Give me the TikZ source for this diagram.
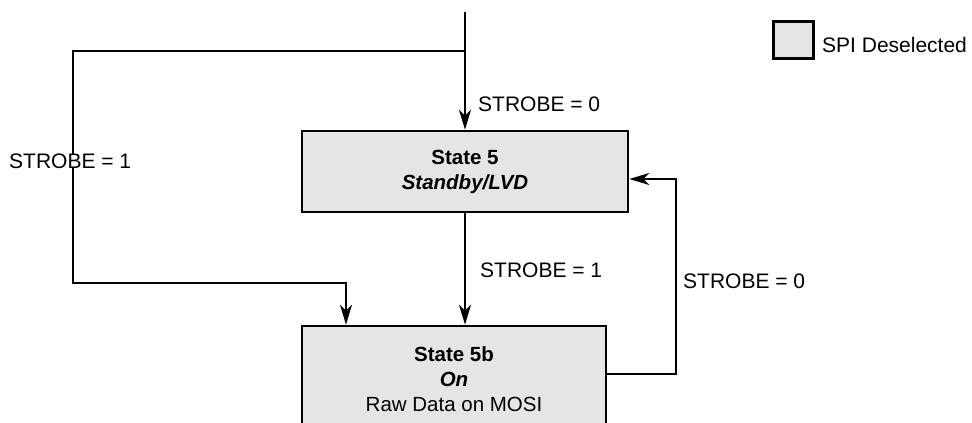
\documentclass[tikz,border=0pt]{standalone}
\usepackage{fontspec}
\setmainfont{Liberation Sans}
\usetikzlibrary{arrows.meta}
\begin{document}
\begin{tikzpicture}[x=1pt,y=-1pt,
  statebox/.style={draw=black,line width=2.6pt,fill=black!10,inner sep=0pt,align=center,font=\fontsize{20.5}{25}\selectfont},
  conn/.style={line width=2.4pt},
  arr/.style={conn,-{Stealth[length=20pt,width=12pt,inset=6pt]}},
  lbl/.style={font=\fontsize{21}{25}\selectfont,inner sep=1pt,anchor=west}]
\useasboundingbox (0,0) rectangle (972,423);
\clip (0,0) rectangle (972,423);
\node[statebox,minimum width=326pt,minimum height=81pt] (s5) at (465,171.5)
  {\textbf{State 5}\\\textbf{\textit{Standby/LVD}}};
\node[statebox,minimum width=304pt,minimum height=106pt] (s5b) at (454,379)
  {\textbf{State 5b}\\\textbf{\textit{On}}\\Raw Data on MOSI};
\coordinate (top) at (465,12);
\coordinate (j) at (465,51);
\coordinate (l1) at (73,51);
\coordinate (l2) at (73,283);
\coordinate (l3) at (346,283);
\coordinate (r1) at (676,374);
\coordinate (r2) at (676,179);
\draw[arr] (top) -- (s5.north);
\draw[arr] (j) -- (l1) -- (l2) -- (l3) -- (l3 |- s5b.north);
\draw[arr] (s5.south) -- (s5.south |- s5b.north);
\draw[arr] (s5b.east |- r1) -- (r1) -- (r2) -- (s5.east |- r2);
\node[lbl] (t0) at (477,104) {STROBE = 0};
\node[lbl,fill=white,inner sep=0pt] (t1) at (9,161) {STROBE = 1};
\node[lbl] (t2) at (479,270) {STROBE = 1};
\node[lbl] (t3) at (682,281) {STROBE = 0};
\node[draw=black,line width=2.6pt,fill=black!10,minimum width=40pt,minimum height=37pt,inner sep=0pt] (leg) at (793.5,40) {};
\node[lbl] (legt) at (821,45) {SPI Deselected};
\end{tikzpicture}
\end{document}
